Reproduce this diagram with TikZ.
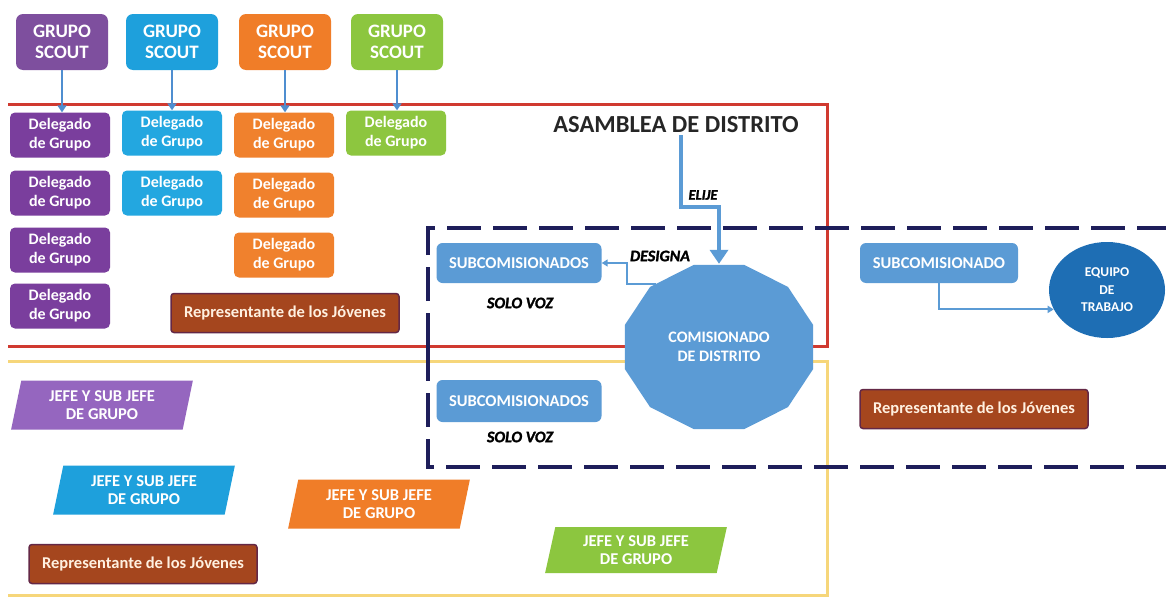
\documentclass[tikz,border=0pt]{standalone}
\usepackage{fontspec}
\setmainfont{Carlito}
\newfontfamily\heavyfont[FakeBold=1.6]{Carlito}
\usetikzlibrary{arrows.meta,shapes.geometric,calc}
\definecolor{gpurp}{HTML}{7E4F9E}
\definecolor{gblue}{HTML}{1EA0DC}
\definecolor{goran}{HTML}{F07D28}
\definecolor{ggreen}{HTML}{8CC63F}
\definecolor{dpurp}{HTML}{7A3E9D}
\definecolor{dblue}{HTML}{23A7E0}
\definecolor{doran}{HTML}{F0812D}
\definecolor{dgreen}{HTML}{8DC63F}
\definecolor{jpurp}{HTML}{9566BF}
\definecolor{repc}{HTML}{A5461E}
\definecolor{repb}{HTML}{642846}
\definecolor{subc}{HTML}{5B9BD5}
\definecolor{equc}{HTML}{1E6EB4}
\definecolor{arrc}{HTML}{4F8ED0}
\definecolor{navyc}{HTML}{1E1E5A}
\definecolor{redc}{HTML}{D03A30}
\definecolor{yelc}{HTML}{F6D67A}
\definecolor{titc}{HTML}{262626}
\begin{document}
\begin{tikzpicture}[x=1pt,y=-1pt,
  grp/.style={rounded corners=7pt, minimum width=92pt, minimum height=56pt, text=white, align=center, font=\fontsize{19}{21.5}\selectfont\bfseries, inner sep=0pt},
  del/.style={rounded corners=5pt, minimum width=100pt, minimum height=45pt, text=white, align=center, font=\fontsize{16}{19}\selectfont\bfseries, inner sep=0pt},
  rep/.style={rounded corners=3pt, fill=repc, draw=repb, line width=1.5pt, minimum width=228pt, minimum height=39pt, text=white!88!orange, font=\fontsize{16.5}{18}\selectfont\bfseries, inner sep=0pt},
  subbox/.style={rounded corners=6pt, fill=subc, minimum width=165pt, minimum height=40pt, text=white, font=\fontsize{16.5}{18}\selectfont\bfseries, inner sep=0pt},
  jefe/.style={trapezium, trapezium left angle=77, trapezium right angle=103, trapezium stretches=true, minimum width=182pt, minimum height=49pt, text=white, align=center, font=\fontsize{16.5}{18}\selectfont\bfseries, inner sep=0pt},
  lab/.style={font=\fontsize{16}{18}\selectfont\heavyfont\bfseries\itshape, text=black, inner sep=0pt},
  thinarr/.style={draw=arrc, line width=2.5pt, -{Triangle[width=9pt,length=7pt]}},
  bigarr/.style={draw=subc, line width=4pt, -{Triangle[width=18pt,length=14pt]}},
  smallarr/.style={draw=subc, line width=2pt, -{Triangle[width=7pt,length=6pt]}},
]
\useasboundingbox[fill=white] (0,0) rectangle (1166,597);

% frames
\draw[redc, line width=3pt] (8,104) -- (827,104) -- (827,346) -- (8,346);
\draw[yelc, line width=3pt] (8,361) -- (827,361) -- (827,595) -- (8,595);
\draw[navyc, line width=4pt, dash pattern=on 34pt off 12pt] (428,347) -- (428,228) -- (1166,228);
\draw[navyc, line width=4pt, dash pattern=on 34pt off 12pt] (428,347) -- (428,467) -- (1166,467);

% grupo scout
\node[grp, fill=gpurp] (g1) at (62,42) {GRUPO\\SCOUT};
\node[grp, fill=gblue] (g2) at (172,42) {GRUPO\\SCOUT};
\node[grp, fill=goran] (g3) at (285,42) {GRUPO\\SCOUT};
\node[grp, fill=ggreen] (g4) at (397,42) {GRUPO\\SCOUT};

% delegados
\node[del, fill=dpurp] (d11) at (60,135) {Delegado\\de Grupo};
\node[del, fill=dpurp] (d12) at (60,193) {Delegado\\de Grupo};
\node[del, fill=dpurp] (d13) at (60,250) {Delegado\\de Grupo};
\node[del, fill=dpurp] (d14) at (60,306) {Delegado\\de Grupo};
\node[del, fill=dblue] (d21) at (172,133) {Delegado\\de Grupo};
\node[del, fill=dblue] (d22) at (172,193) {Delegado\\de Grupo};
\node[del, fill=doran] (d31) at (284,135) {Delegado\\de Grupo};
\node[del, fill=doran] (d32) at (284,195) {Delegado\\de Grupo};
\node[del, fill=doran] (d33) at (284,255) {Delegado\\de Grupo};
\node[del, fill=dgreen] (d41) at (396,133) {Delegado\\de Grupo};

\draw[thinarr] (g1.south) -- (g1.south |- d11.north);
\draw[thinarr] (g2.south) -- (g2.south |- d21.north);
\draw[thinarr] (g3.south) -- (g3.south |- d31.north);
\draw[thinarr] (g4.south) -- (g4.south |- d41.north);

\node[rep] (rep1) at (285,313) {Representante de los Jóvenes};
\node[rep] (rep2) at (143,564) {Representante de los Jóvenes};
\node[rep] (rep3) at (974,409) {Representante de los Jóvenes};

% jefes
\node[jefe, fill=jpurp] (j1) at (102,405) {JEFE Y SUB JEFE\\DE GRUPO};
\node[jefe, fill=gblue] (j2) at (144,490) {JEFE Y SUB JEFE\\DE GRUPO};
\node[jefe, fill=goran] (j3) at (379,504) {JEFE Y SUB JEFE\\DE GRUPO};
\node[jefe, fill=ggreen, minimum height=46pt] (j4) at (636,550) {JEFE Y SUB JEFE\\DE GRUPO};

% comisionado
\fill[subc, shift={(719,347)}] (15:97.5 and 85) -- (45:97.5 and 85) -- (75:97.5 and 85) -- (105:97.5 and 85) -- (135:97.5 and 85) -- (165:97.5 and 85) -- (195:97.5 and 85) -- (225:97.5 and 85) -- (255:97.5 and 85) -- (285:97.5 and 85) -- (315:97.5 and 85) -- (345:97.5 and 85) -- cycle;
\node[ellipse, minimum width=190pt, minimum height=166pt, inner sep=0pt, text=white, align=center, font=\fontsize{16}{19}\selectfont\bfseries] (com) at (719,347) {COMISIONADO\\DE DISTRITO};

\node[font=\fontsize{24.5}{28}\selectfont\bfseries, text=titc, inner sep=2pt] (asam) at (676,125) {ASAMBLEA DE DISTRITO};

\node[subbox] (sub1) at (519,263) {SUBCOMISIONADOS};
\node[subbox, minimum height=42pt] (sub2) at (519,401) {SUBCOMISIONADOS};
\node[subbox, minimum width=158pt] (sub3) at (939,263) {SUBCOMISIONADO};

\node[ellipse, fill=equc, minimum width=116pt, minimum height=96pt, inner sep=0pt, text=white, align=center, font=\fontsize{13.5}{17.5}\selectfont\bfseries] (equ) at (1107,290) {EQUIPO\\DE\\TRABAJO};

\node[lab] (solo1) at (520,303) {SOLO VOZ};
\node[lab] (solo2) at (520,437) {SOLO VOZ};
\node[lab] (desig) at (660,256) {DESIGNA};
\node[lab, font=\fontsize{14.5}{16}\selectfont\heavyfont\bfseries\itshape] (elije) at (703,195) {ELIJE};

% connectors
\draw[bigarr] ([xshift=5pt]asam.south) -- ++(0,72) -| (com.north);
\draw[smallarr] (com.135) -- ++(-29,0) |- (sub1.east);
\draw[smallarr] (sub3.south) |- (equ.200);
\end{tikzpicture}
\end{document}
